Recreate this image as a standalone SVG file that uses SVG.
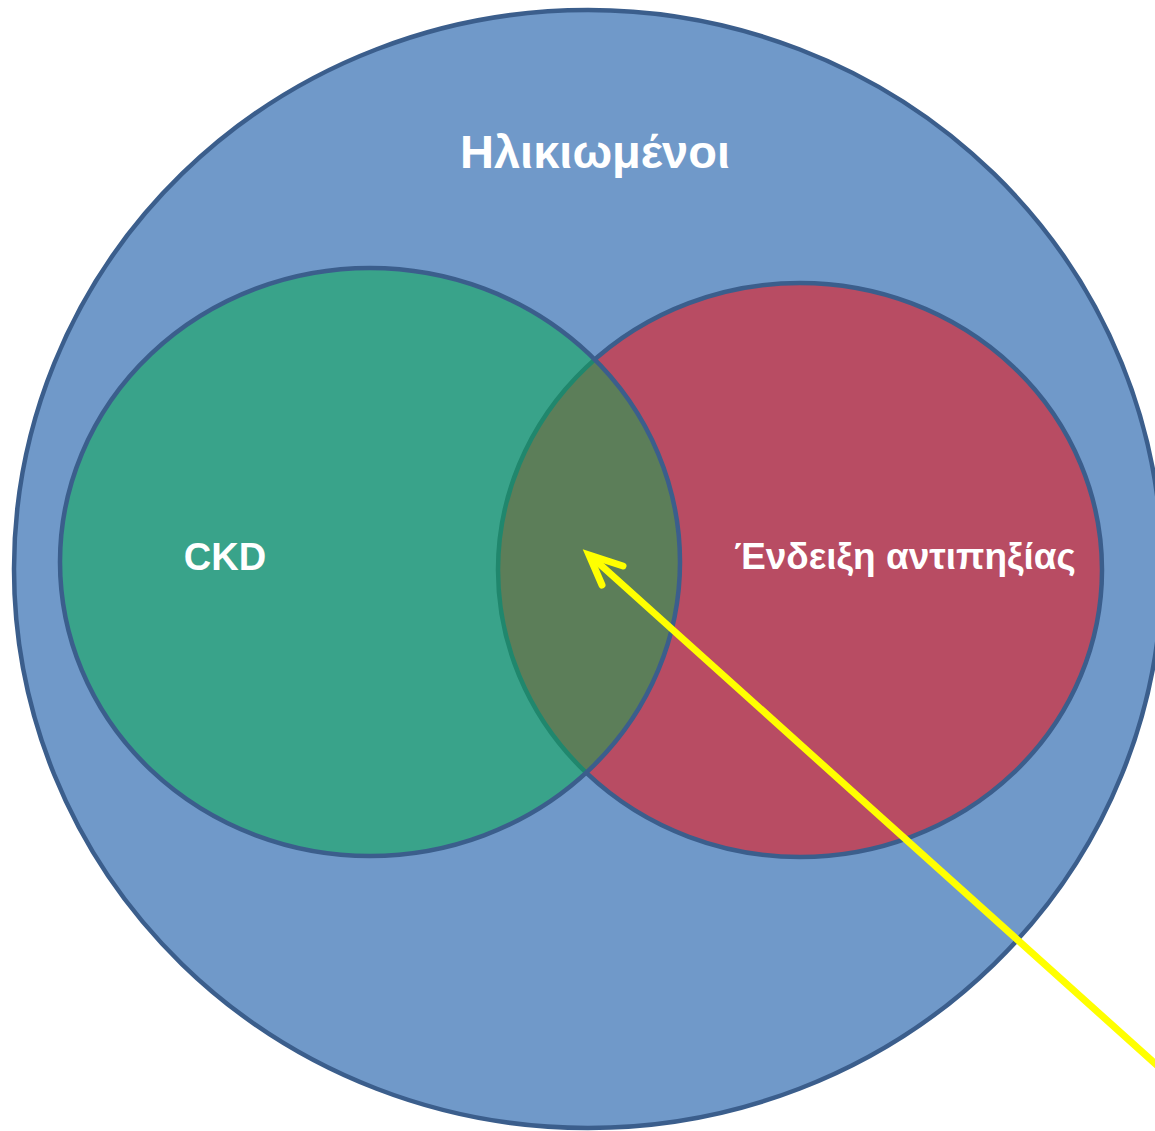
<svg xmlns="http://www.w3.org/2000/svg" width="1155" height="1131" viewBox="0 0 1155 1131">
<style>
.st{stroke:#3b5e8c;stroke-width:4.5}
.lbl{font-family:"Liberation Sans",Arial,sans-serif;font-weight:bold;fill:#ffffff;font-size:38px}
.ttl{font-size:47px}
.arr{fill:none;stroke:#ffff00;stroke-width:7;stroke-linecap:round}
</style>
<rect width="1155" height="1131" fill="#ffffff"/>
<g id="elderly">
<ellipse class="st" cx="588" cy="569" rx="574" ry="559" fill="#7099c9"/>
<text class="lbl ttl" x="595" y="168" text-anchor="middle">Ηλικιωμένοι</text>
</g>
<g id="anticoag">
<ellipse class="st" cx="800" cy="570" rx="302" ry="287" fill="#b84c63"/>
<text class="lbl" x="905" y="569" text-anchor="middle" style="font-size:37px">Ένδειξη αντιπηξίας</text>
</g>
<g id="ckd">
<ellipse class="st" cx="370" cy="562" rx="310" ry="294" fill="#08ac50" fill-opacity="0.52"/>
<text class="lbl" x="225" y="570" text-anchor="middle">CKD</text>
</g>
<g id="connectors">
<line class="arr" x1="1160" y1="1068" x2="594" y2="559"/>
<polyline class="arr" points="623,566 589,555 602,585" stroke-linejoin="miter"/>
</g>
</svg>
